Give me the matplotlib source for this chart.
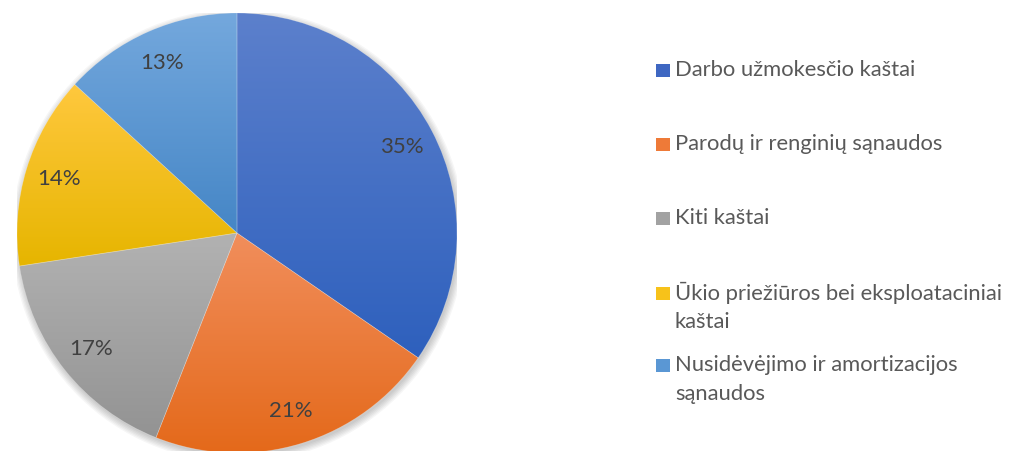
import textwrap
import numpy as np
import matplotlib
matplotlib.use('Agg')
import matplotlib.pyplot as plt
from matplotlib.colors import LinearSegmentedColormap
from matplotlib.patches import Rectangle, Circle

plt.rcParams['font.family'] = ['Lato', 'DejaVu Sans']

# duomenys
categories = ['Darbo užmokesčio kaštai',
              'Parodų ir renginių sąnaudos',
              'Kiti kaštai',
              'Ūkio priežiūros bei eksploataciniai kaštai',
              'Nusidėvėjimo ir amortizacijos sąnaudos']
shares = [34.6, 21.4, 16.6, 14.2, 13.2]
# spalvos: viršus / apačia (gradientas), legendos žymeklis
top_colors = ['#5C80CC', '#F18E5C', '#B2B2B2', '#FFC83E', '#74A8DD']
bottom_colors = ['#2E60BD', '#E4691A', '#939393', '#E6B500', '#4586C6']
marker_colors = ['#3E67C2', '#EE7A38', '#A2A2A2', '#F7C21A', '#5A97D4']

W, H = 1010, 451
fig = plt.figure(figsize=(W / 100, H / 100), dpi=100)
# pyragas: centras (237, 233) px, spindulys 220 px
ax = fig.add_axes([17 / W, (H - 453) / H, 440 / W, 440 / H])

# šešėlis
for k in range(6):
    ax.add_patch(Circle((0.006, -0.012), 1.0 + 0.006 * k, color='black',
                        alpha=0.035, lw=0, zorder=-1))

wedges, texts, autotexts = ax.pie(
    shares, startangle=90, counterclock=False, radius=1,
    autopct='%1.0f%%', pctdistance=0.845,
    textprops=dict(color='#404040', fontsize=16))

for w, c0, c1 in zip(wedges, top_colors, bottom_colors):
    x0, y0, x1, y1 = w.get_path().get_extents().extents
    cmap = LinearSegmentedColormap.from_list('g', [c0, c1])
    grad = np.linspace(0, 1, 256).reshape(-1, 1)
    im = ax.imshow(grad, extent=[x0, x1, y0, y1], origin='upper',
                   cmap=cmap, aspect='auto', zorder=1)
    im.set_clip_path(w)
    w.set_facecolor('none')
    w.set_edgecolor((1, 1, 1, 0.25))
    w.set_linewidth(0.5)
    w.set_zorder(2)

for t in autotexts:
    t.set_zorder(5)

ax.set_xlim(-1, 1)
ax.set_ylim(-1, 1)
ax.axis('off')

# legenda
legend_y = [70, 144, 218, 293, 365]
line_gap = 29.5
for name, mc, y in zip(categories, marker_colors, legend_y):
    fig.add_artist(Rectangle((656 / W, 1 - (y + 6.5) / H), 14 / W, 13 / H,
                             transform=fig.transFigure, facecolor=mc,
                             edgecolor='none'))
    for j, line in enumerate(textwrap.wrap(name, 36)):
        fig.text(675 / W, 1 - (y + j * line_gap) / H, line,
                 va='center', ha='left', fontsize=15.8, color='#595959')

plt.savefig('out.png', dpi=100)
